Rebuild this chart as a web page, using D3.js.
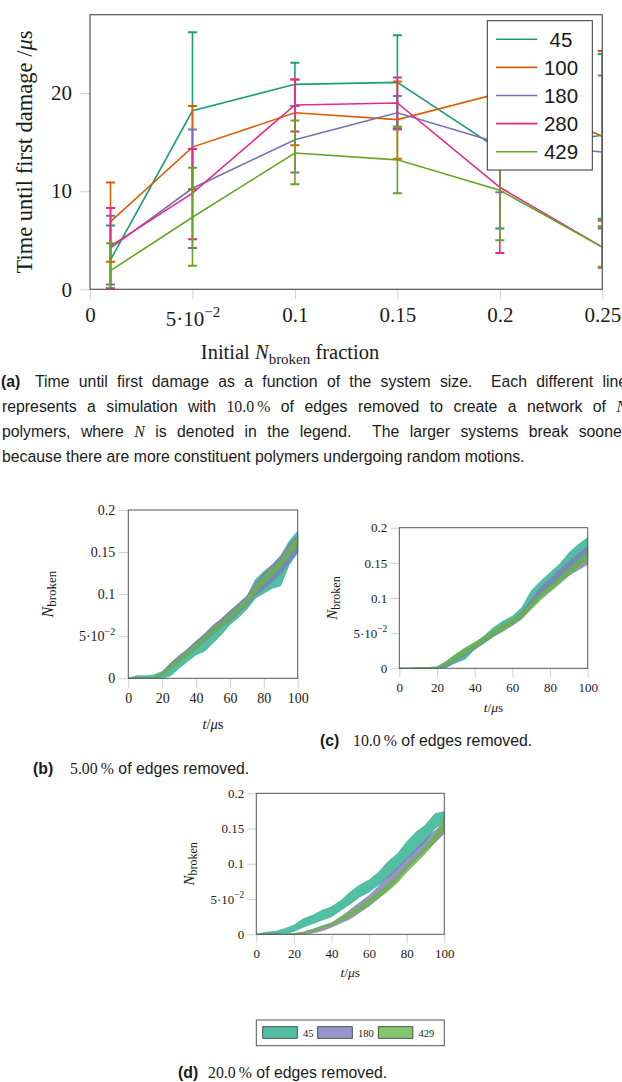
<!DOCTYPE html>
<html>
<head>
<meta charset="utf-8">
<script src="https://cdn.jsdelivr.net/npm/d3@7"></script>
<style>
    html, body { margin: 0; padding: 0; background: #fff; overflow: hidden; }
    svg { display: block; }
    .serif { font-family: "Liberation Serif", "DejaVu Serif", serif; }
    .sans { font-family: "Liberation Sans", Arial, sans-serif; }
    .caption { white-space: pre; }
</style>
</head>
<body>
<div id="figure"></div>
<script>
// ---- data ----

// (a) time until first damage vs initial broken fraction
var fractions = [0.01, 0.05, 0.1, 0.15, 0.2, 0.25];
var sizes = ["45", "100", "180", "280", "429"];
var sizeColors = ["#1b9e77", "#d95f02", "#7570b3", "#e7298a", "#66a61e"];

var mean45 = [3.0, 18.2, 20.9, 21.1, 14.2, 15.7];
var low45 = [-0.5, 10.2, 18.7, 16.3, 6.2, 7.2];
var high45 = [6.5, 26.2, 23.1, 25.9, 22.2, 24.0];

var mean100 = [6.9, 14.5, 18.0, 17.3, 20.0, 15.6];
var low100 = [2.8, 10.2, 14.7, 13.3, 16.0, 7.0];
var high100 = [10.9, 18.7, 21.4, 21.2, 24.0, 24.3];

var mean180 = [4.2, 10.3, 15.25, 18.0, 14.9, 14.0];
var low180 = [0.5, 4.2, 11.9, 16.4, 9.9, 6.2];
var high180 = [7.5, 16.3, 18.7, 19.7, 19.9, 21.8];

var mean280 = [4.4, 9.8, 18.8, 19.0, 10.4, 4.3];
var low280 = [0.1, 5.1, 16.1, 16.4, 3.7, 2.2];
var high280 = [8.3, 14.3, 21.4, 21.6, 17.1, 6.4];

var mean429 = [1.9, 7.35, 13.9, 13.2, 10.1, 4.3];
var low429 = [-0.9, 2.4, 10.7, 9.8, 5.0, 2.3];
var high429 = [4.7, 12.4, 17.2, 16.6, 15.2, 6.4];

var fractionTicks = [0, 0.05, 0.1, 0.15, 0.2, 0.25];
var fractionTickLabels = ["0", "5·10|−2", "0.1", "0.15", "0.2", "0.25"];
var damageTicks = [0, 10, 20];

// (b)-(d) N_broken band (mean +/- spread) against time
var times = [0, 5, 10, 15, 20, 25, 30, 35, 40, 45, 50, 55, 60, 65, 70, 75, 80, 85, 90, 95, 100];
var bandSizes = ["45", "180", "429"];
var bandColors = ["#27ae8c", "#7e7abc", "#69b54a"];

// 5.00 % removed
var b45hi = [0, 0.003, 0.003, 0.004, 0.008, 0.018, 0.026, 0.034, 0.044, 0.052, 0.062, 0.070, 0.080, 0.088, 0.097, 0.117, 0.127, 0.135, 0.145, 0.163, 0.175];
var b45lo = [0, 0, 0, 0, 0, 0.003, 0.012, 0.020, 0.028, 0.032, 0.042, 0.052, 0.064, 0.072, 0.082, 0.095, 0.101, 0.107, 0.110, 0.135, 0.149];
var b180hi = [0, 0, 0, 0.001, 0.007, 0.018, 0.027, 0.035, 0.044, 0.053, 0.063, 0.071, 0.080, 0.089, 0.098, 0.113, 0.125, 0.135, 0.146, 0.160, 0.170];
var b180lo = [0, 0, 0, 0, 0.003, 0.011, 0.019, 0.027, 0.035, 0.043, 0.052, 0.061, 0.068, 0.077, 0.086, 0.098, 0.106, 0.115, 0.125, 0.138, 0.150];
var b429hi = [0, 0, 0, 0.001, 0.007, 0.016, 0.025, 0.033, 0.041, 0.050, 0.060, 0.068, 0.077, 0.086, 0.095, 0.110, 0.122, 0.131, 0.142, 0.156, 0.168];
var b429lo = [0, 0, 0, 0, 0.003, 0.011, 0.019, 0.027, 0.035, 0.044, 0.053, 0.061, 0.070, 0.079, 0.088, 0.101, 0.112, 0.122, 0.132, 0.146, 0.157];

// 10.0 % removed
var c45hi = [0, 0, 0.001, 0.001, 0.002, 0.010, 0.020, 0.029, 0.036, 0.046, 0.058, 0.067, 0.074, 0.086, 0.110, 0.124, 0.136, 0.148, 0.164, 0.176, 0.186];
var c45lo = [0, 0, 0, 0, 0, 0.001, 0.008, 0.013, 0.027, 0.036, 0.046, 0.053, 0.063, 0.072, 0.086, 0.103, 0.115, 0.127, 0.136, 0.145, 0.157];
var c180hi = [0, 0, 0, 0, 0.001, 0.008, 0.017, 0.026, 0.034, 0.043, 0.053, 0.061, 0.069, 0.080, 0.098, 0.115, 0.127, 0.140, 0.152, 0.163, 0.174];
var c180lo = [0, 0, 0, 0, 0, 0.002, 0.010, 0.018, 0.027, 0.036, 0.045, 0.053, 0.061, 0.070, 0.085, 0.100, 0.110, 0.122, 0.132, 0.140, 0.148];
var c429hi = [0, 0, 0, 0.001, 0.002, 0.010, 0.020, 0.029, 0.037, 0.045, 0.054, 0.062, 0.070, 0.079, 0.093, 0.106, 0.118, 0.130, 0.142, 0.153, 0.165];
var c429lo = [0, 0, 0, 0, 0.001, 0.004, 0.012, 0.020, 0.029, 0.037, 0.046, 0.054, 0.062, 0.071, 0.084, 0.097, 0.109, 0.120, 0.132, 0.143, 0.155];

// 20.0 % removed
var d45hi = [0, 0.003, 0.004, 0.008, 0.013, 0.022, 0.027, 0.034, 0.039, 0.048, 0.060, 0.070, 0.077, 0.088, 0.103, 0.114, 0.131, 0.145, 0.155, 0.171, 0.174];
var d45lo = [0, 0, 0, 0.001, 0.004, 0.010, 0.015, 0.020, 0.025, 0.034, 0.043, 0.053, 0.060, 0.070, 0.081, 0.093, 0.107, 0.119, 0.131, 0.150, 0.159];
var d180hi = [0, 0, 0, 0, 0.001, 0.003, 0.007, 0.012, 0.016, 0.025, 0.035, 0.045, 0.055, 0.068, 0.082, 0.094, 0.108, 0.121, 0.135, 0.147, 0.157];
var d180lo = [0, 0, 0, 0, 0, 0, 0.002, 0.005, 0.010, 0.016, 0.022, 0.031, 0.040, 0.051, 0.063, 0.077, 0.092, 0.106, 0.119, 0.130, 0.143];
var d429hi = [0, 0, 0, 0, 0.001, 0.003, 0.007, 0.011, 0.016, 0.024, 0.032, 0.041, 0.050, 0.060, 0.071, 0.083, 0.098, 0.111, 0.125, 0.142, 0.165];
var d429lo = [0, 0, 0, 0, 0, 0.001, 0.004, 0.008, 0.012, 0.018, 0.025, 0.033, 0.041, 0.051, 0.061, 0.073, 0.088, 0.101, 0.115, 0.130, 0.148];

var timeTicks = [0, 20, 40, 60, 80, 100];
var brokenTicks = [0, 0.05, 0.1, 0.15, 0.2];
var brokenTickLabels = ["0", "5·10|−2", "0.1", "0.15", "0.2"];

(function() {

    var width = 622,
        height = 1082,
        textColor = "#1a1a1a",
        frameColor = "#555",
        tickColor = "#c4c4c4";

    var svg = d3.select("#figure").append("svg")
        .attr("width", width)
        .attr("height", height);

    // writes "5·10|−2" style labels as base + superscript
    function powerLabel(sel, label, size) {
        var parts = label.split("|");
        sel.text(parts[0]);
        if (parts.length > 1) {
            sel.append("tspan")
                .attr("dy", -0.45 * size)
                .style("font-size", (size * 0.72) + "px")
                .text(parts[1]);
        }
    }

    function styleAxis(g) {
        g.select(".domain").remove();
        g.selectAll(".tick line").attr("stroke", tickColor).attr("stroke-width", 0.8);
        g.selectAll(".tick text").attr("fill", textColor);
    }

    // ================= (a) main chart =================
    var box = {left: 90, right: 602.3, top: 14.7, bottom: 289.3};

    var x = d3.scaleLinear().domain([0, 0.25]).range([box.left, box.right]);
    var y = d3.scaleLinear().domain([0, 28]).range([box.bottom, box.top]);

    var seriesMean = [mean45, mean100, mean180, mean280, mean429],
        seriesLow = [low45, low100, low180, low280, low429],
        seriesHigh = [high45, high100, high180, high280, high429];

    var series = sizes.map(function(s, i) {
        return {
            name: s,
            color: sizeColors[i],
            points: fractions.map(function(f, j) {
                return {x: f, y: seriesMean[i][j], lo: seriesLow[i][j], hi: seriesHigh[i][j]};
            })
        };
    });

    svg.append("clipPath").attr("id", "clipMain")
        .append("rect")
        .attr("x", box.left).attr("y", box.top)
        .attr("width", box.right - box.left).attr("height", box.bottom - box.top);

    var xAxis = svg.append("g")
        .attr("class", "serif")
        .attr("transform", "translate(0," + box.bottom + ")")
        .style("font-size", "21px")
        .call(d3.axisBottom(x).tickValues(fractionTicks).tickSize(10).tickFormat(""));
    styleAxis(xAxis);
    xAxis.selectAll(".tick text")
        .attr("dy", null)
        .attr("y", function(d, i) { return fractionTickLabels[i].indexOf("|") > 0 ? 37 : 33; })
        .each(function(d, i) { powerLabel(d3.select(this), fractionTickLabels[i], 21); });

    var yAxis = svg.append("g")
        .attr("class", "serif")
        .attr("transform", "translate(" + box.left + ",0)")
        .style("font-size", "21px")
        .call(d3.axisLeft(y).tickValues(damageTicks).tickSize(10).tickPadding(8));
    styleAxis(yAxis);

    var plot = svg.append("g").attr("clip-path", "url(#clipMain)");

    var line = d3.line()
        .x(function(d) { return x(d.x); })
        .y(function(d) { return y(d.y); });

    series.forEach(function(s) {
        var g = plot.append("g").attr("class", "series");

        g.append("path")
            .datum(s.points)
            .attr("d", line)
            .attr("fill", "none")
            .attr("stroke", s.color)
            .attr("stroke-width", 1.6);

        var bars = g.selectAll(".bar")
            .data(s.points)
            .enter().append("g")
            .attr("class", "bar")
            .attr("stroke", s.color)
            .attr("stroke-width", 1.6);

        bars.append("line")
            .attr("x1", function(d) { return x(d.x); })
            .attr("x2", function(d) { return x(d.x); })
            .attr("y1", function(d) { return y(d.lo); })
            .attr("y2", function(d) { return y(d.hi); });

        bars.selectAll(".cap")
            .data(function(d) { return [{x: d.x, v: d.lo}, {x: d.x, v: d.hi}]; })
            .enter().append("line")
            .attr("class", "cap")
            .attr("stroke-width", 2)
            .attr("x1", function(d) { return x(d.x) - 4.5; })
            .attr("x2", function(d) { return x(d.x) + 4.5; })
            .attr("y1", function(d) { return y(d.v); })
            .attr("y2", function(d) { return y(d.v); });
    });

    svg.append("rect")
        .attr("x", box.left).attr("y", box.top)
        .attr("width", box.right - box.left).attr("height", box.bottom - box.top)
        .attr("fill", "none")
        .attr("stroke", frameColor)
        .attr("stroke-width", 1.2);

    // axis titles
    var yTitle = svg.append("text")
        .attr("class", "serif")
        .attr("transform", "translate(32," + ((box.top + box.bottom) / 2) + ") rotate(-90)")
        .attr("text-anchor", "middle")
        .attr("fill", textColor)
        .style("font-size", "22.5px")
        .text("Time until first damage /");
    yTitle.append("tspan").style("font-style", "italic").text("μ");
    yTitle.append("tspan").text("s");

    var xTitle = svg.append("text")
        .attr("class", "serif")
        .attr("x", 290).attr("y", 359)
        .attr("text-anchor", "middle")
        .attr("fill", textColor)
        .style("font-size", "20.5px")
        .text("Initial ");
    xTitle.append("tspan").style("font-style", "italic").text("N");
    xTitle.append("tspan").attr("dy", 5).style("font-size", "15px").text("broken");
    xTitle.append("tspan").attr("dy", -5).text(" fraction");

    // legend
    var legend = svg.append("g").attr("class", "legend");
    legend.append("rect")
        .attr("x", 487.3).attr("y", 20.7)
        .attr("width", 105).attr("height", 149.3)
        .attr("fill", "#fff")
        .attr("stroke", "#333")
        .attr("stroke-width", 1);

    var entry = legend.selectAll(".entry")
        .data(series)
        .enter().append("g")
        .attr("class", "entry")
        .attr("transform", function(d, i) { return "translate(0," + (39.3 + i * 28.1) + ")"; });

    entry.append("line")
        .attr("x1", 496).attr("x2", 537.3)
        .attr("stroke", function(d) { return d.color; })
        .attr("stroke-width", 1.6);

    entry.append("text")
        .attr("class", "sans")
        .attr("x", 561).attr("dy", "0.36em")
        .attr("text-anchor", "middle")
        .attr("fill", textColor)
        .style("font-size", "20.5px")
        .text(function(d) { return d.name; });

    // ================= (b)-(d) band charts =================
    function bandPlot(opts) {
        var bx = d3.scaleLinear().domain([0, 100]).range([opts.left, opts.right]);
        var by = d3.scaleLinear().domain([0, 0.2]).range([opts.bottom, opts.top]);
        var fs = opts.font;

        var g = svg.append("g").attr("class", "band-plot");

        var ax = g.append("g")
            .attr("class", "serif")
            .attr("transform", "translate(0," + opts.bottom + ")")
            .style("font-size", fs + "px")
            .call(d3.axisBottom(bx).tickValues(timeTicks).tickSize(opts.tick).tickPadding(opts.pad));
        styleAxis(ax);

        var ay = g.append("g")
            .attr("class", "serif")
            .attr("transform", "translate(" + opts.left + ",0)")
            .style("font-size", fs + "px")
            .call(d3.axisLeft(by).tickValues(brokenTicks).tickSize(opts.tick).tickPadding(3).tickFormat(""));
        styleAxis(ay);
        ay.selectAll(".tick text")
            .each(function(d, i) { powerLabel(d3.select(this), brokenTickLabels[i], fs); });

        var area = d3.area()
            .x(function(d) { return bx(d.t); })
            .y0(function(d) { return by(d.lo); })
            .y1(function(d) { return by(d.hi); });

        opts.bands.forEach(function(b, i) {
            var pts = times.map(function(t, j) { return {t: t, lo: b.lo[j], hi: b.hi[j]}; });
            g.append("path")
                .datum(pts)
                .attr("d", area)
                .attr("fill", bandColors[i])
                .attr("fill-opacity", 0.8)
                .attr("stroke", bandColors[i])
                .attr("stroke-width", 0.6);
        });

        g.append("rect")
            .attr("x", opts.left).attr("y", opts.top)
            .attr("width", opts.right - opts.left).attr("height", opts.bottom - opts.top)
            .attr("fill", "none")
            .attr("stroke", frameColor)
            .attr("stroke-width", 1);

        var yl = g.append("text")
            .attr("class", "serif")
            .attr("transform", "translate(" + opts.ylabX + "," + ((opts.top + opts.bottom) / 2) + ") rotate(-90)")
            .attr("text-anchor", "middle")
            .attr("fill", textColor)
            .style("font-size", (fs + 2) + "px");
        yl.append("tspan").style("font-style", "italic").text("N");
        yl.append("tspan").attr("dy", 3).style("font-size", (fs - 1) + "px").text("broken");

        var xl = g.append("text")
            .attr("class", "serif")
            .attr("x", (opts.left + opts.right) / 2).attr("y", opts.xlabY)
            .attr("text-anchor", "middle")
            .attr("fill", textColor)
            .style("font-size", (fs + 0.5) + "px");
        xl.append("tspan").style("font-style", "italic").text("t");
        xl.append("tspan").text("/");
        xl.append("tspan").style("font-style", "italic").text("μ");
        xl.append("tspan").text("s");
    }

    bandPlot({left: 128.3, right: 297.7, top: 510, bottom: 678.3, font: 14, tick: 10, pad: 5,
        ylabX: 53, xlabY: 729,
        bands: [{hi: b45hi, lo: b45lo}, {hi: b180hi, lo: b180lo}, {hi: b429hi, lo: b429lo}]});

    bandPlot({left: 399.3, right: 587.7, top: 527.7, bottom: 668.3, font: 13, tick: 9, pad: 5,
        ylabX: 337, xlabY: 712,
        bands: [{hi: c45hi, lo: c45lo}, {hi: c180hi, lo: c180lo}, {hi: c429hi, lo: c429lo}]});

    bandPlot({left: 256.3, right: 444.3, top: 793.3, bottom: 934.3, font: 13, tick: 9, pad: 5,
        ylabX: 194, xlabY: 977,
        bands: [{hi: d45hi, lo: d45lo}, {hi: d180hi, lo: d180lo}, {hi: d429hi, lo: d429lo}]});

    // shared legend for the band charts
    var bl = svg.append("g").attr("class", "band-legend");
    bl.append("rect")
        .attr("x", 256.3).attr("y", 1020)
        .attr("width", 188).attr("height", 25.7)
        .attr("fill", "#fff")
        .attr("stroke", frameColor)
        .attr("stroke-width", 1);

    var swatchX = [262.7, 317.7, 378.3];
    var be = bl.selectAll(".item")
        .data(bandSizes)
        .enter().append("g")
        .attr("class", "item");

    be.append("rect")
        .attr("x", function(d, i) { return swatchX[i]; })
        .attr("y", 1026.7)
        .attr("width", 34.6).attr("height", 11.6)
        .attr("fill", function(d, i) { return bandColors[i]; })
        .attr("fill-opacity", 0.8)
        .attr("stroke", "#333")
        .attr("stroke-width", 0.8);

    be.append("text")
        .attr("class", "serif")
        .attr("x", function(d, i) { return swatchX[i] + 40.3; })
        .attr("y", 1036.5)
        .attr("fill", textColor)
        .style("font-size", "10.5px")
        .text(function(d) { return d; });

    // ================= captions =================
    // justifyTo: right edge the line is stretched to (TeX justified paragraph,
    // wider than the cropped page, so the line ends run past the edge)
    function caption(xp, yp, parts, justifyTo) {
        var t = svg.append("text")
            .attr("class", "caption")
            .attr("x", xp).attr("y", yp)
            .attr("fill", textColor)
            .style("font-size", "15.8px");
        parts.forEach(function(p) {
            t.append("tspan")
                .attr("class", p.serif ? "serif" : "sans")
                .style("font-style", p.italic ? "italic" : null)
                .style("font-weight", p.bold ? "bold" : null)
                .text(p.text);
        });
        if (justifyTo) {
            var natural = t.node().getComputedTextLength(),
                gaps = (t.text().match(/ /g) || []).length;
            if (gaps) t.style("word-spacing", ((justifyTo - xp - natural) / gaps) + "px");
        }
        return t;
    }

    var rightEdge = 627;
    caption(1, 387, [{text: "(a)", bold: true}]);
    caption(35, 387, [{text: "Time until first damage as a function of the system size.  Each different line"}], rightEdge);
    caption(2, 412, [{text: "represents a simulation with "}, {text: "10.0\u2009%", serif: true},
        {text: " of edges removed to create a network of "}, {text: "N", serif: true, italic: true}], rightEdge);
    caption(2, 437, [{text: "polymers, where "}, {text: "N", serif: true, italic: true},
        {text: " is denoted in the legend.  The larger systems break sooner"}], rightEdge);
    caption(2, 462, [{text: "because there are more constituent polymers undergoing random motions."}]);

    caption(33, 774, [{text: "(b)", bold: true}]);
    caption(70, 774, [{text: "5.00\u2009%", serif: true}, {text: " of edges removed."}]);

    caption(320, 746, [{text: "(c)", bold: true}]);
    caption(353, 746, [{text: "10.0\u2009%", serif: true}, {text: " of edges removed."}]);

    caption(178, 1078, [{text: "(d)", bold: true}]);
    caption(208, 1078, [{text: "20.0\u2009%", serif: true}, {text: " of edges removed."}]);

})();
</script>
</body>
</html>
